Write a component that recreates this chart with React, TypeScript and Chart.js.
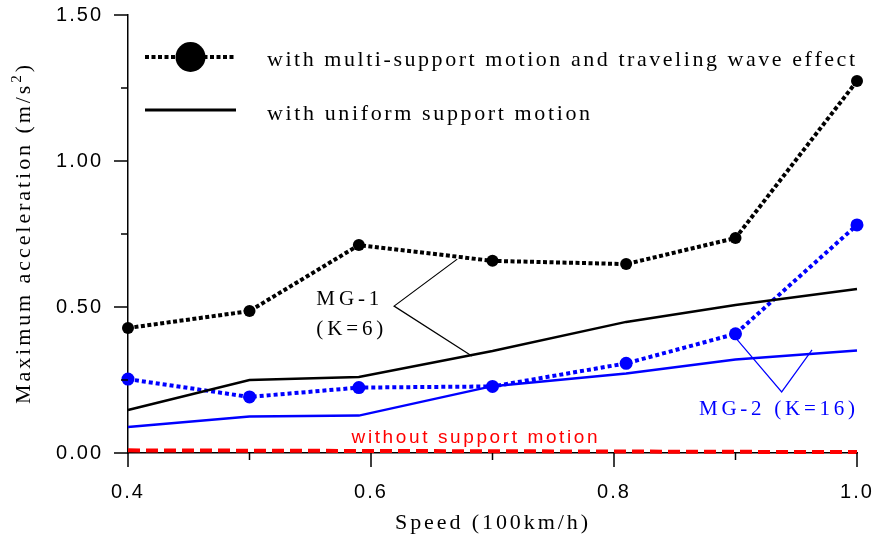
import React, { useEffect, useRef } from 'react';
import { Chart, registerables } from 'chart.js';

Chart.register(...registerables);

// ---- data ----
const speeds = [0.4, 0.5, 0.59, 0.7, 0.81, 0.9, 1.0];
const mg1Multi = [0.428, 0.486, 0.712, 0.658, 0.647, 0.736, 1.274];
const mg1Uniform = [0.147, 0.25, 0.26, 0.349, 0.449, 0.507, 0.562];
const mg2Multi = [0.253, 0.192, 0.224, 0.228, 0.307, 0.408, 0.781];
const mg2Uniform = [0.089, 0.125, 0.128, 0.229, 0.272, 0.32, 0.351];
const noSupport = [0.009, 0.008, 0.007, 0.006, 0.005, 0.004, 0.003];

const xMajorTicks = [0.4, 0.6, 0.8, 1.0];
const xMinorTicks = [0.5, 0.7, 0.9];
const yMajorTicks = [0, 0.5, 1.0, 1.5];
const yMinorTicks = [0.25, 0.75, 1.25];

const legendLabels = [
  'with multi-support motion and traveling wave effect',
  'with uniform support motion',
];
const mg1Labels = ['MG-1', '(K=6)'];
const mg2Label = 'MG-2 (K=16)';
const baseLabel = 'without support motion';
const xTitle = 'Speed (100km/h)';
const yTitleParts = ['Maximum acceleration (m/s', '2', ')'];

const SERIF = "'Liberation Serif', 'Times New Roman', serif";
const SANS = "'Liberation Sans', Arial, sans-serif";

type Part = { text: string; font: string; dy?: number };

function drawSpaced(ctx: CanvasRenderingContext2D, parts: Part[], x: number, y: number, width: number) {
  let natural = 0;
  let n = 0;
  for (const p of parts) {
    ctx.font = p.font;
    for (const ch of p.text) {
      natural += ctx.measureText(ch).width;
      n++;
    }
  }
  const sp = n > 1 ? (width - natural) / (n - 1) : 0;
  let cx = x;
  for (const p of parts) {
    ctx.font = p.font;
    for (const ch of p.text) {
      ctx.fillText(ch, cx, y + (p.dy || 0));
      cx += ctx.measureText(ch).width + sp;
    }
  }
}

const overlayPlugin = {
  id: 'overlay',
  beforeDraw(chart: any) {
    (chart.ctx as any).letterSpacing = '2px';
  },
  afterDraw(chart: any) {
    const ctx: CanvasRenderingContext2D = chart.ctx;
    const xs = chart.scales.x;
    const ys = chart.scales.y;
    const area = chart.chartArea;
    const px = (v: number) => xs.getPixelForValue(v);
    const py = (v: number) => ys.getPixelForValue(v);
    ctx.save();
    (ctx as any).letterSpacing = '0px';
    ctx.textBaseline = 'alphabetic';
    ctx.textAlign = 'left';

    // tick marks
    ctx.strokeStyle = '#000';
    ctx.lineWidth = 1.5;
    ctx.beginPath();
    for (const v of xMajorTicks) { ctx.moveTo(px(v), area.bottom); ctx.lineTo(px(v), area.bottom + 14); }
    for (const v of xMinorTicks) { ctx.moveTo(px(v), area.bottom); ctx.lineTo(px(v), area.bottom + 7); }
    for (const v of yMajorTicks) { ctx.moveTo(area.left, py(v)); ctx.lineTo(area.left - 14, py(v)); }
    for (const v of yMinorTicks) { ctx.moveTo(area.left, py(v)); ctx.lineTo(area.left - 7, py(v)); }
    ctx.stroke();

    // axis titles
    ctx.fillStyle = '#000';
    drawSpaced(ctx, [{ text: xTitle, font: `22px ${SERIF}` }], 395, 529, 193);
    ctx.save();
    ctx.translate(30, 404);
    ctx.rotate(-Math.PI / 2);
    drawSpaced(ctx, [
      { text: yTitleParts[0], font: `22px ${SERIF}` },
      { text: yTitleParts[1], font: `15px ${SERIF}`, dy: -9 },
      { text: yTitleParts[2], font: `22px ${SERIF}` },
    ], 0, 0, 339);
    ctx.restore();

    // legend
    const l0 = area.left + 17, l1 = area.left + 108;
    ctx.strokeStyle = '#000';
    ctx.lineWidth = 4;
    ctx.setLineDash([4, 2.5]);
    ctx.beginPath(); ctx.moveTo(l0, 57); ctx.lineTo(l1, 57); ctx.stroke();
    ctx.setLineDash([]);
    ctx.beginPath(); ctx.arc((l0 + l1) / 2, 57, 15, 0, Math.PI * 2); ctx.fillStyle = '#000'; ctx.fill();
    ctx.lineWidth = 3;
    ctx.beginPath(); ctx.moveTo(l0, 110); ctx.lineTo(l1, 110); ctx.stroke();
    drawSpaced(ctx, [{ text: legendLabels[0], font: `22px ${SERIF}` }], 267, 66, 588);
    drawSpaced(ctx, [{ text: legendLabels[1], font: `22px ${SERIF}` }], 267, 120, 323);

    // MG-1 annotation
    ctx.lineWidth = 1.2;
    ctx.strokeStyle = '#000';
    ctx.beginPath();
    ctx.moveTo(px(0.671), py(0.664));
    ctx.lineTo(px(0.619), py(0.503));
    ctx.lineTo(px(0.683), py(0.332));
    ctx.stroke();
    drawSpaced(ctx, [{ text: mg1Labels[0], font: `21px ${SERIF}` }], px(0.555), py(0.507), 63);
    drawSpaced(ctx, [{ text: mg1Labels[1], font: `21px ${SERIF}` }], px(0.555), py(0.403), 67);

    // MG-2 annotation
    ctx.strokeStyle = '#0000ff';
    ctx.fillStyle = '#0000ff';
    ctx.beginPath();
    ctx.moveTo(px(0.8996), py(0.397));
    ctx.lineTo(px(0.938), py(0.209));
    ctx.lineTo(px(0.963), py(0.353));
    ctx.stroke();
    drawSpaced(ctx, [{ text: mg2Label, font: `21px ${SERIF}` }], px(0.87), py(0.13), 156);

    // baseline label
    ctx.fillStyle = '#ff0000';
    drawSpaced(ctx, [{ text: baseLabel, font: `19px ${SANS}` }], px(0.584), py(0.034), 246);

    ctx.restore();
  },
};

const toPts = (ys: number[]) => speeds.map((x, i) => ({ x, y: ys[i] }));

const zeroPad = (s: any) => {
  s.paddingTop = 0;
  s.paddingBottom = 0;
  s.paddingLeft = 0;
  s.paddingRight = 0;
};

export default function App() {
  const ref = useRef<HTMLCanvasElement | null>(null);
  useEffect(() => {
    if (!ref.current) return;
    const chart = new Chart(ref.current, {
      type: 'line',
      data: {
        datasets: [
          {
            label: 'MG-1 multi',
            data: toPts(mg1Multi),
            borderColor: '#000',
            borderWidth: 4,
            borderDash: [4, 2.5],
            pointRadius: 6,
            pointBackgroundColor: '#000',
            pointBorderWidth: 0,
            clip: false as any,
          },
          {
            label: 'MG-1 uniform',
            data: toPts(mg1Uniform),
            borderColor: '#000',
            borderWidth: 2.5,
            pointRadius: 0,
            clip: false as any,
          },
          {
            label: 'MG-2 multi',
            data: toPts(mg2Multi),
            borderColor: '#0000ff',
            borderWidth: 4,
            borderDash: [4, 3],
            pointRadius: 6.5,
            pointBackgroundColor: '#0000ff',
            pointBorderWidth: 0,
            clip: false as any,
          },
          {
            label: 'MG-2 uniform',
            data: toPts(mg2Uniform),
            borderColor: '#0000ff',
            borderWidth: 2.5,
            pointRadius: 0,
            clip: false as any,
          },
          {
            label: 'without',
            data: toPts(noSupport),
            borderColor: '#ff0000',
            borderWidth: 4,
            borderDash: [12, 6],
            pointRadius: 0,
            clip: false as any,
          },
        ],
      },
      options: {
        animation: false,
        responsive: false,
        layout: { padding: { top: 15, right: 17, left: 0, bottom: 0 } },
        plugins: { legend: { display: false }, tooltip: { enabled: false } },
        elements: { line: { tension: 0 } },
        scales: {
          x: {
            type: 'linear',
            min: 0.4,
            max: 1.0,
            afterBuildTicks: (s: any) => { s.ticks = xMajorTicks.map((v) => ({ value: v })); },
            afterFit: (s: any) => { s.height = 86; zeroPad(s); },
            ticks: {
              callback: (v: any) => Number(v).toFixed(1),
              font: { family: SANS, size: 20 },
              color: '#000',
              padding: 27,
              maxRotation: 0,
              autoSkip: false,
            },
            grid: { display: false, drawTicks: false },
            border: { display: true, color: '#000', width: 1.5 },
          },
          y: {
            type: 'linear',
            min: 0,
            max: 1.5,
            afterBuildTicks: (s: any) => { s.ticks = yMajorTicks.map((v) => ({ value: v })); },
            afterFit: (s: any) => { s.width = 128; zeroPad(s); },
            ticks: {
              callback: (v: any) => Number(v).toFixed(2),
              font: { family: SANS, size: 20 },
              color: '#000',
              padding: 25,
            },
            grid: { display: false, drawTicks: false },
            border: { display: true, color: '#000', width: 1.5 },
          },
        },
      } as any,
      plugins: [overlayPlugin],
    });
    return () => chart.destroy();
  }, []);
  return (
    <div style={{ position: 'absolute', left: 0, top: 0, width: 874, height: 539, background: '#fff' }}>
      <canvas ref={ref} width={874} height={539} />
    </div>
  );
}
